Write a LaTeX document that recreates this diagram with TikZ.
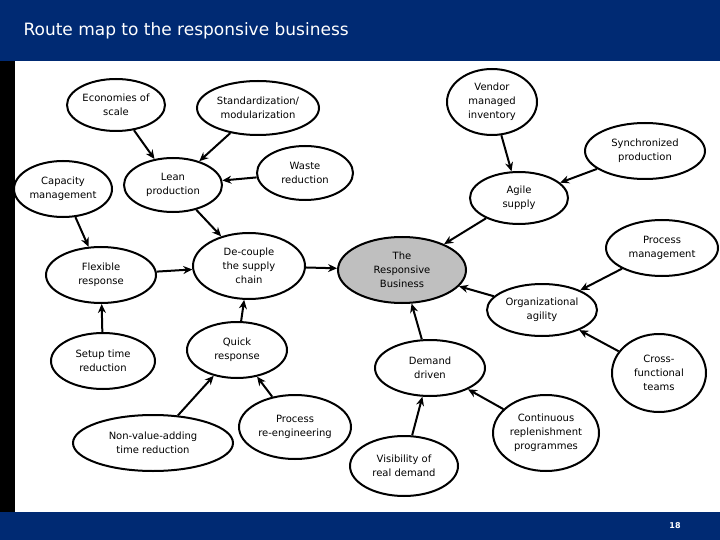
\documentclass[tikz,border=0pt]{standalone}
\usepackage{fontspec}
\setmainfont{DejaVu Sans}
\usetikzlibrary{shapes.geometric,arrows.meta}
\definecolor{bar}{RGB}{0,42,115}
\begin{document}
\begin{tikzpicture}[x=1pt,y=-1pt,
 el/.style={ellipse,draw,line width=2pt,fill=white,align=center,inner sep=0pt,font=\fontsize{10}{14}\selectfont},
 ar/.style={-{Stealth[length=9pt,width=8pt]},line width=2pt}]
\useasboundingbox (0,0) rectangle (720,540);
\fill[white] (0,0) rectangle (720,540);
\fill[bar] (0,0) rectangle (720,61);
\fill[bar] (0,512) rectangle (720,540);
\fill[black] (0,61) rectangle (15,512);
\node[anchor=west,text=white,font=\fontsize{17}{20}\selectfont] (title) at (20,31) {Route map to the responsive business};
\node[text=white,font=\bfseries\fontsize{8}{9}\selectfont] (pg) at (675,526) {18};
\node[el,minimum width=98,minimum height=52] (eco) at (116,105) {Economies of\\scale};
\node[el,minimum width=122,minimum height=54] (std) at (258,108) {Standardization/\\modularization};
\node[el,minimum width=90,minimum height=66] (ven) at (492,102) {Vendor\\managed\\inventory};
\node[el,minimum width=120,minimum height=56] (syn) at (645,151) {Synchronized\\production};
\node[el,minimum width=98,minimum height=56] (cap) at (63,189) {Capacity\\management};
\node[el,minimum width=98,minimum height=54] (lean) at (173,185) {Lean\\production};
\node[el,minimum width=96,minimum height=54] (waste) at (305,173) {Waste\\reduction};
\node[el,minimum width=98,minimum height=52] (agile) at (519,198) {Agile\\supply};
\node[el,minimum width=110,minimum height=56] (flex) at (101,275) {Flexible\\response};
\node[el,minimum width=112,minimum height=66] (dec) at (249,266) {De-couple\\the supply\\chain};
\node[el,fill=black!25,minimum width=128,minimum height=66] (resp) at (402,270) {The\\Responsive\\Business};
\node[el,minimum width=112,minimum height=56] (pm) at (662,248) {Process\\management};
\node[el,minimum width=110,minimum height=52] (org) at (542,310) {Organizational\\agility};
\node[el,minimum width=104,minimum height=56] (set) at (103,361) {Setup time\\reduction};
\node[el,minimum width=100,minimum height=56] (qr) at (237,350) {Quick\\response};
\node[el,minimum width=110,minimum height=56] (dd) at (430,368) {Demand\\driven};
\node[el,minimum width=94,minimum height=78] (cf) at (659,373) {Cross-\\functional\\teams};
\node[el,minimum width=160,minimum height=56] (nv) at (153,443) {Non-value-adding\\time reduction};
\node[el,minimum width=112,minimum height=64] (pr) at (295,427) {Process\\re-engineering};
\node[el,minimum width=108,minimum height=60] (vis) at (404,466) {Visibility of\\real demand};
\node[el,minimum width=106,minimum height=76] (cr) at (546,433) {Continuous\\replenishment\\programmes};
\draw[ar] (eco) -- (lean);
\draw[ar] (std) -- (lean);
\draw[ar] (waste) -- (lean);
\draw[ar] (cap) -- (flex);
\draw[ar] (lean) -- (dec);
\draw[ar] (flex) -- (dec);
\draw[ar] (dec) -- (resp);
\draw[ar] (ven) -- (agile);
\draw[ar] (syn) -- (agile);
\draw[ar] (agile) -- (resp);
\draw[ar] (pm) -- (org);
\draw[ar] (org) -- (resp);
\draw[ar] (set) -- (flex);
\draw[ar] (qr) -- (dec);
\draw[ar] (nv) -- (qr);
\draw[ar] (pr) -- (qr);
\draw[ar] (dd) -- (resp);
\draw[ar] (vis) -- (dd);
\draw[ar] (cr) -- (dd);
\draw[ar] (cf) -- (org);
\end{tikzpicture}
\end{document}
